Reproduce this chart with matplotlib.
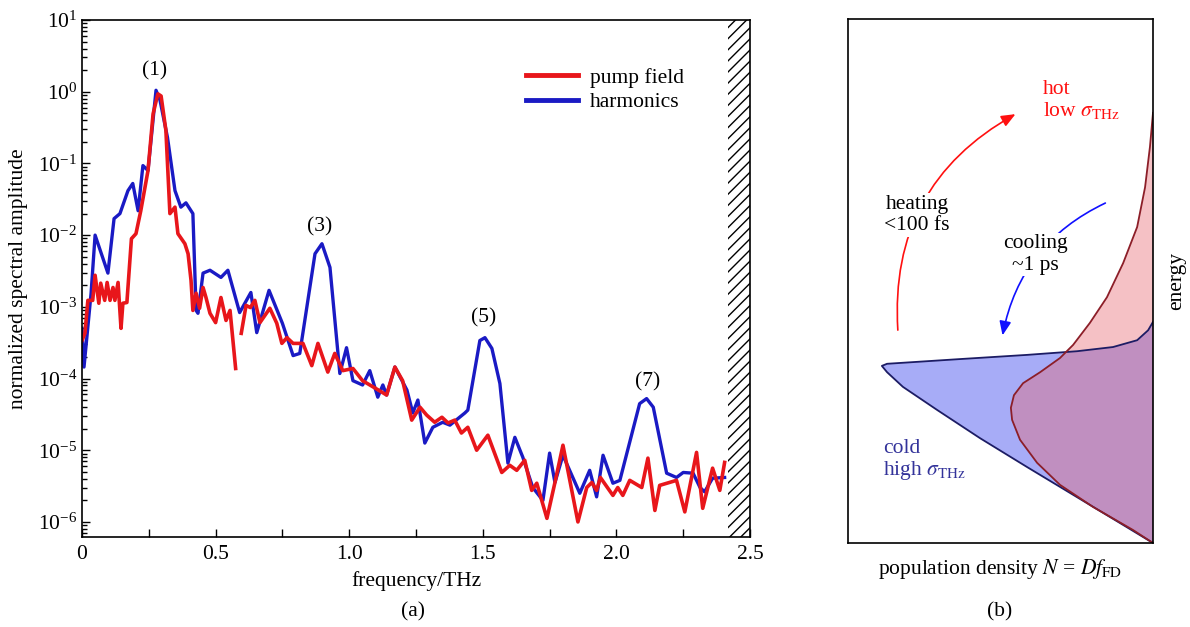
import numpy as np
import matplotlib
matplotlib.use("Agg")
import matplotlib.pyplot as plt
from matplotlib.patches import FancyArrowPatch
from matplotlib.ticker import NullFormatter, FixedLocator

plt.rcParams['font.family'] = ['Liberation Serif', 'DejaVu Serif']
plt.rcParams['mathtext.fontset'] = 'stix'
plt.rcParams['hatch.linewidth'] = 1.0
FS = 15.5

# ---- panel (a): spectra, log10 of the normalized amplitude
harm_f = [0.0, 0.0075, 0.034, 0.049, 0.097, 0.12, 0.142, 0.172, 0.19, 0.21, 0.228, 0.247,
          0.277, 0.292, 0.32, 0.348, 0.37, 0.389, 0.415, 0.427, 0.434, 0.453, 0.479, 0.52,
          0.546, 0.59, 0.632, 0.654, 0.70, 0.75, 0.79, 0.815, 0.872, 0.898, 0.928, 0.965,
          0.99, 1.014, 1.05, 1.077, 1.107, 1.126, 1.14, 1.171, 1.216, 1.238, 1.257, 1.283,
          1.313, 1.35, 1.377, 1.433, 1.444, 1.489, 1.508, 1.534, 1.564, 1.594, 1.62, 1.65,
          1.687, 1.725, 1.75, 1.77, 1.80, 1.863, 1.90, 1.926, 1.95, 1.987, 2.013, 2.087,
          2.113, 2.138, 2.188, 2.225, 2.25, 2.287, 2.313, 2.33, 2.36, 2.405]
harm_log = [-3.30, -3.84, -2.81, -2.00, -2.53, -1.77, -1.70, -1.38, -1.28, -1.66, -1.03, -1.10,
            0.02, -0.12, -0.64, -1.38, -1.61, -1.55, -1.70, -3.05, -3.09, -2.53, -2.49, -2.59,
            -2.49, -3.08, -2.80, -3.36, -2.77, -3.23, -3.68, -3.65, -2.26, -2.12, -2.45, -3.93,
            -3.57, -4.03, -4.09, -3.89, -4.26, -4.09, -4.23, -3.84, -4.16, -4.48, -4.30, -4.90,
            -4.68, -4.61, -4.65, -4.48, -4.44, -3.47, -3.43, -3.58, -4.07, -5.18, -4.82, -5.10,
            -5.52, -5.70, -5.04, -5.45, -5.07, -5.60, -5.28, -5.65, -5.07, -5.46, -5.42, -4.35,
            -4.28, -4.40, -5.32, -5.38, -5.31, -5.32, -5.52, -5.58, -5.39, -5.38]

pump_f = [0.0, 0.011, 0.022, 0.04, 0.049, 0.063, 0.07, 0.085, 0.094, 0.105, 0.116, 0.123,
          0.135, 0.146, 0.153, 0.168, 0.185, 0.202, 0.22, 0.247, 0.266, 0.284, 0.296, 0.314,
          0.329, 0.348, 0.359, 0.385, 0.397, 0.408, 0.415, 0.427, 0.44, 0.453, 0.464, 0.479,
          0.50, 0.52, 0.539, 0.554, 0.575, np.nan, 0.596, 0.614, 0.63, 0.647, 0.666, 0.703,
          0.729, 0.748, 0.767, 0.79, 0.827, 0.86, 0.883, 0.92, 0.946, 0.976, 1.014, 1.05,
          1.10, 1.14, 1.171, 1.20, 1.234, 1.265, 1.29, 1.32, 1.347, 1.37, 1.395, 1.42,
          1.444, 1.477, 1.519, 1.571, 1.601, 1.627, 1.657, 1.683, 1.702, 1.74, 1.77, 1.80,
          1.856, 1.889, 1.908, 1.926, 1.94, 1.987, 2.005, 2.024, 2.05, 2.095, 2.118, 2.144,
          2.162, 2.225, 2.256, 2.30, 2.323, 2.36, 2.387, 2.405]
pump_log = [-3.47, -3.37, -2.91, -2.91, -2.56, -2.95, -2.67, -2.91, -2.66, -2.91, -2.73, -2.91,
            -2.66, -3.30, -2.95, -2.94, -2.05, -1.98, -1.66, -1.10, -0.31, -0.03, -0.06, -0.54,
            -1.70, -1.61, -1.98, -2.12, -2.26, -2.63, -3.05, -2.81, -3.02, -2.73, -2.87, -3.09,
            -3.22, -2.87, -3.19, -3.05, -3.86, np.nan, -3.37, -2.98, -3.01, -2.91, -3.22, -3.02,
            -3.23, -3.51, -3.43, -3.51, -3.51, -3.82, -3.51, -3.91, -3.65, -3.89, -3.86, -4.03,
            -4.14, -4.23, -3.84, -4.03, -4.58, -4.40, -4.51, -4.61, -4.54, -4.62, -4.58, -4.76,
            -4.68, -5.00, -4.79, -5.31, -5.21, -5.28, -5.14, -5.56, -5.46, -5.95, -5.45, -4.93,
            -6.00, -5.52, -5.45, -5.56, -5.38, -5.63, -5.52, -5.63, -5.42, -5.52, -5.11, -5.84,
            -5.49, -5.42, -5.86, -5.03, -5.81, -5.25, -5.56, -5.17]

peak_labels = ['(1)', '(3)', '(5)', '(7)']
peak_f = [0.273, 0.89, 1.504, 2.117]
peak_log = [0.29, -1.89, -3.16, -4.04]

blocked_band = (2.417, 2.5)

# ---- panel (b): distributions, N measured from the right edge, energy upward
cold_N = [0, 0.108, 0.262, 0.413, 0.567, 0.708, 0.820, 0.872, 0.889, 0.872, 0.633, 0.413,
          0.249, 0.131, 0.052, 0.016, 0]
cold_E = [0, 0.038, 0.092, 0.145, 0.200, 0.254, 0.298, 0.326, 0.338, 0.342, 0.351, 0.359,
          0.366, 0.374, 0.387, 0.406, 0.422]
hot_N = [0, 0.066, 0.197, 0.305, 0.380, 0.436, 0.462, 0.466, 0.456, 0.426, 0.370, 0.305,
         0.262, 0.207, 0.151, 0.098, 0.052, 0.026, 0.010, 0]
hot_E = [0, 0.025, 0.069, 0.111, 0.153, 0.197, 0.235, 0.258, 0.282, 0.305, 0.326, 0.353,
         0.378, 0.420, 0.469, 0.534, 0.603, 0.679, 0.756, 0.821]

RED = '#e8161b'
BLUE = '#1a1ac4'

fig = plt.figure(figsize=(11.9, 6.27), dpi=100)
ax1 = fig.add_axes([82/1190, 90/627, 668/1190, 517/627])
ax2 = fig.add_axes([848/1190, 84/627, 305/1190, 524/627])

# (a)
ax1.plot(harm_f, 10**np.array(harm_log), color=BLUE, lw=2.4, label='harmonics')
ax1.plot(pump_f, 10**np.array(pump_log), color=RED, lw=2.6, label='pump field')
ax1.set_yscale('log')
ax1.set_xlim(0, 2.5)
ax1.set_ylim(10**-6.21, 10)
ax1.yaxis.set_major_locator(FixedLocator([1e-6, 1e-5, 1e-4, 1e-3, 1e-2, 1e-1, 1e0, 1e1]))
ax1.yaxis.set_minor_formatter(NullFormatter())
ax1.axvspan(*blocked_band, facecolor='none', edgecolor='black', hatch='///', lw=0)
for lab, f, lg in zip(peak_labels, peak_f, peak_log):
    ax1.text(f, 10**lg, lab, ha='center', va='center', fontsize=FS)

h, l = ax1.get_legend_handles_labels()
leg = ax1.legend(h[::-1], l[::-1], loc='upper left', bbox_to_anchor=(0.636, 0.945),
                 frameon=False, fontsize=FS, handlelength=2.4, handletextpad=0.55,
                 labelspacing=0.2)
for ln in leg.get_lines():
    ln.set_linewidth(3.5)

ax1.set_xticks([0, 0.5, 1.0, 1.5, 2.0, 2.5])
ax1.set_xticklabels(['0', '0.5', '1.0', '1.5', '2.0', '2.5'])
ax1.set_xticks([0.25, 0.75, 1.25, 1.75, 2.25], minor=True)
ax1.tick_params(axis='both', which='both', direction='in', top=False, right=False,
                labelsize=FS, width=1.0)
ax1.tick_params(axis='x', which='both', length=6, pad=6)
ax1.tick_params(axis='y', which='major', length=6)
ax1.tick_params(axis='y', which='minor', length=3.5)
for s in ax1.spines.values():
    s.set_linewidth(1.2)
ax1.set_xlabel('frequency/THz', fontsize=FS, labelpad=5)
ax1.set_ylabel('normalized spectral amplitude', fontsize=FS, labelpad=7)

# (b)
ax2.fill(cold_N, cold_E, color=(80/255, 90/255, 240/255), alpha=0.5, lw=0)
ax2.plot(cold_N, cold_E, color='#1c1c64', lw=1.3)
ax2.fill(hot_N, hot_E, color=(230/255, 100/255, 110/255), alpha=0.4, lw=0)
ax2.plot(hot_N, hot_E, color='#8c1e28', lw=1.3)
ax2.set_xlim(1.0, 0)
ax2.set_ylim(0, 1)
ax2.set_xticks([])
ax2.set_yticks([])
for s in ax2.spines.values():
    s.set_linewidth(1.2)

ax2.add_patch(FancyArrowPatch((0.836, 0.401), (0.443, 0.821), connectionstyle='arc3,rad=-0.32',
                              arrowstyle='-|>,head_length=0.6,head_width=0.25',
                              mutation_scale=14, color='#ff1010', lw=1.2))
ax2.add_patch(FancyArrowPatch((0.148, 0.651), (0.495, 0.391), connectionstyle='arc3,rad=0.26',
                              arrowstyle='-|>,head_length=0.6,head_width=0.25',
                              mutation_scale=14, color='#1010ff', lw=1.2))
box = dict(facecolor='white', edgecolor='none', pad=1)
ax2.text(0.774, 0.626, 'heating\n<100 fs', ha='center', va='center', fontsize=FS,
         linespacing=1.2, bbox=box, zorder=5)
ax2.text(0.387, 0.55, 'cooling\n~1 ps', ha='center', va='center', fontsize=FS,
         linespacing=1.2, bbox=box, zorder=5)
ax2.text(0.361, 0.845, 'hot\nlow $\\sigma_{\\rm THz}$', ha='left', va='center', fontsize=FS,
         color='#ff1010', linespacing=1.05)
ax2.text(0.885, 0.158, 'cold\nhigh $\\sigma_{\\rm THz}$', ha='left', va='center', fontsize=FS,
         color='#33339a', linespacing=1.05)
ax2.set_xlabel('population density $N$ = $Df_{\\rm FD}$', fontsize=FS, labelpad=10)
ax2.yaxis.set_label_position('right')
ax2.set_ylabel('energy', fontsize=FS, labelpad=10)

fig.text(413/1190, 1 - 612/627, '(a)', ha='center', va='center', fontsize=FS)
fig.text(1000/1190, 1 - 612/627, '(b)', ha='center', va='center', fontsize=FS)

fig.savefig('out.png', dpi=100)
